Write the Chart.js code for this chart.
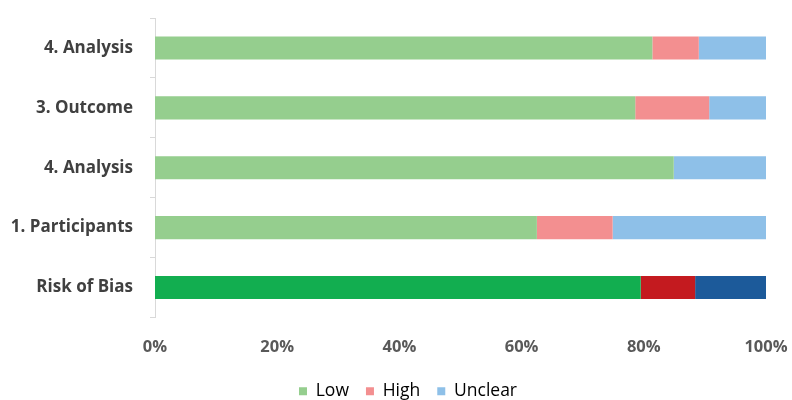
<!DOCTYPE html>
<html><head><meta charset="utf-8">
<script src="https://cdn.jsdelivr.net/npm/chart.js@4/dist/chart.umd.min.js"></script>
<style>html,body{margin:0;padding:0;background:#fff}#wrap{width:792px;height:400px}</style>
</head><body><div id="wrap"><canvas id="c" width="792" height="400"></canvas></div>
<script>
const categories = ["4. Analysis", "3. Outcome", "4. Analysis", "1. Participants", "Risk of Bias"];
const lowValues = [81.4, 78.6, 84.9, 62.5, 79.5];
const highValues = [7.6, 12.1, 0, 12.4, 8.9];
const unclearValues = [11.0, 9.3, 15.1, 25.1, 11.6];
const seriesNames = ["Low", "High", "Unclear"];
const xTicks = [0, 20, 40, 60, 80, 100];

const light = ["#95CE8E", "#F38F90", "#8EC0E8"];
const dark = ["#12AE50", "#C41A1F", "#1C5A9A"];
function colors(i){ return categories.map((c, k) => k === categories.length - 1 ? dark[i] : light[i]); }

const shiftLegend = {
  id: 'shiftLegend',
  afterLayout(chart) { const l = chart.legend; if (l) { l.left += 25; l.right += 25; l.top += 2; l.bottom += 2; } }
};

new Chart(document.getElementById('c'), {
  type: 'bar',
  data: {
    labels: categories,
    datasets: [lowValues, highValues, unclearValues].map((d, i) => ({
      label: seriesNames[i], data: d, backgroundColor: colors(i), borderWidth: 0,
      barPercentage: 0.77, categoryPercentage: 0.5
    }))
  },
  plugins: [shiftLegend],
  options: {
    indexAxis: 'y', responsive: false, animation: false,
    layout: { padding: { top: 18, right: 26, left: 0, bottom: -8 } },
    plugins: {
      tooltip: { enabled: false },
      legend: {
        position: 'bottom',
        labels: {
          boxWidth: 8, boxHeight: 8, padding: 17,
          color: '#7F7F7F', font: { family: 'Open Sans', size: 17.5 },
          generateLabels: () => seriesNames.map((n, i) => ({ text: n, fillStyle: light[i], strokeStyle: light[i], lineWidth: 0, datasetIndex: i }))
        }
      }
    },
    scales: {
      x: {
        stacked: true, min: 0, max: 100,
        afterBuildTicks: s => { s.ticks = xTicks.map(v => ({ value: v })); },
        afterFit: s => { s.height = 46; s.paddingLeft = 0; s.paddingRight = 0; },
        grid: { display: false, drawTicks: false },
        border: { display: false },
        ticks: { padding: 20, color: '#595959', font: { family: 'Open Sans', size: 16.5, weight: 'bold' }, callback: v => v + '%' }
      },
      y: {
        stacked: true,
        afterFit: s => { s.width = 155; s.paddingTop = 0; s.paddingBottom = 0; },
        grid: { display: true, drawOnChartArea: false, offset: true, tickLength: 5, color: '#D9D9D9' },
        border: { display: true, color: '#D9D9D9', width: 1 },
        ticks: { padding: 17, color: '#404040', font: { family: 'Open Sans', size: 17, weight: 'bold' } }
      }
    }
  }
});
</script></body></html>
